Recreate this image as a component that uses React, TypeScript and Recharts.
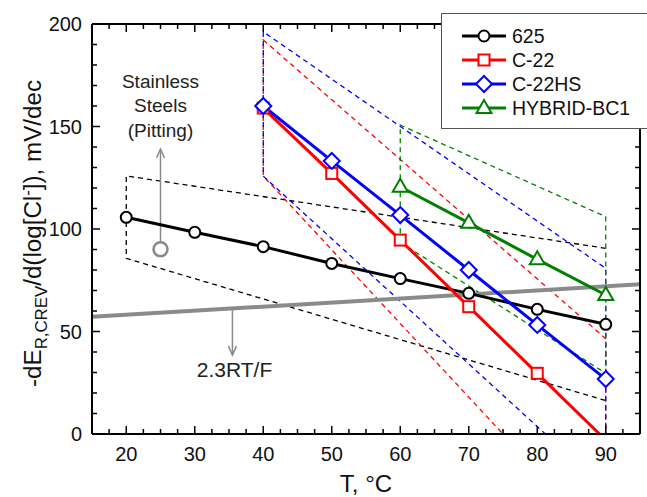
import { Legend, Line, LineChart, ReferenceDot, XAxis, YAxis } from "recharts";

const temps625 = [20, 30, 40, 50, 60, 70, 80, 90];
const alloy625 = [105.7, 98.4, 91.4, 83.2, 75.8, 68.6, 60.8, 53.5];
const tempsC22 = [40, 50, 60, 70, 80, 90];
const alloyC22 = [159, 127.1, 94.6, 62.1, 29.6, -3];
const alloyC22HS = [160, 133.2, 106.8, 80, 53.2, 26.8];
const tempsBC1 = [60, 70, 80, 90];
const hybridBC1 = [120.6, 103, 85.2, 67.8];

// 2.3RT/F (mV/dec) at both ends of the T axis
const rtfTemps = [15, 95];
const rtfValues = [57.2, 73.0];

// dashed bands, [T, value]
const band625 = [[90, 90.6], [20, 125.9], [20, 85.7], [90, 16.3]];
const bandC22 = [[90, -53.9], [40, 125.8], [40, 192.2], [90, 46.5], [90, -53.9]];
const bandC22HS = [[90, -26.9], [40, 125.8], [40, 196.2], [90, 80.8], [90, -26.9]];
const bandBC1 = [[60, 93.5], [60, 150.7], [90, 106], [90, 29.6], [60, 93.5]];

// annotations
const pittingMark = [[25, 90.1]];
const pittingArrow = [[25, 93.5], [25, 139]];
const rtfArrow = [[35.5, 61.3], [35.5, 38.5]];

const xTicks = [17.5, 20, 22.5, 25, 27.5, 30, 32.5, 35, 37.5, 40, 42.5, 45, 47.5, 50, 52.5, 55, 57.5, 60, 62.5, 65, 67.5, 70, 72.5, 75, 77.5, 80, 82.5, 85, 87.5, 90, 92.5];
const xLabels = [20, 30, 40, 50, 60, 70, 80, 90];
const yTicks = [0, 10, 20, 30, 40, 50, 60, 70, 80, 90, 100, 110, 120, 130, 140, 150, 160, 170, 180, 190, 200];
const yLabels = [0, 50, 100, 150, 200];

const RED = "#ff0000";
const BLUE = "#0000ff";
const GREEN = "#008000";
const GRAY = "#8a8a8a";
const FONT = "'Liberation Sans', Arial, sans-serif";

const series = [
    { name: "625", temps: temps625, values: alloy625, color: "#000000", shape: "circle" },
    { name: "C-22", temps: tempsC22, values: alloyC22, color: RED, shape: "square" },
    { name: "C-22HS", temps: tempsC22, values: alloyC22HS, color: BLUE, shape: "diamond" },
    { name: "HYBRID-BC1", temps: tempsBC1, values: hybridBC1, color: GREEN, shape: "triangle" },
];

const bands = [
    { id: "b625", points: band625, color: "#000000" },
    { id: "bC22", points: bandC22, color: RED },
    { id: "bC22HS", points: bandC22HS, color: BLUE },
    { id: "bBC1", points: bandBC1, color: GREEN },
];

function toRows(temps: number[], values: number[]) {
    return temps.map((t, i) => ({ t, v: values[i] }));
}

function pairRows(points: number[][]) {
    return points.map(([t, v]) => ({ t, v }));
}

function Marker({ shape, cx, cy, color }: any) {
    const estilo = { fill: "#ffffff", stroke: color, strokeWidth: 2 };
    if (shape === "circle") return <circle cx={cx} cy={cy} r={5.5} {...estilo} />;
    if (shape === "square") return <rect x={cx - 5.5} y={cy - 5.5} width={11} height={11} {...estilo} />;
    if (shape === "diamond")
        return <polygon points={`${cx},${cy - 8} ${cx + 8},${cy} ${cx},${cy + 8} ${cx - 8},${cy}`} {...estilo} />;
    return <polygon points={`${cx},${cy - 8} ${cx + 7.5},${cy + 5} ${cx - 7.5},${cy + 5}`} {...estilo} />;
}

function markerDot(shape: string, color: string) {
    return (props: any) => {
        const { cx, cy, value, index } = props;
        if (cx == null || cy == null || value < 0) return <g key={`d-${index}`} />;
        return <Marker key={`d-${index}`} shape={shape} cx={cx} cy={cy} color={color} />;
    };
}

function arrowDot(up: boolean) {
    return (props: any) => {
        const { cx, cy, index } = props;
        if (index !== 1) return <g key={`a-${index}`} />;
        const dy = up ? 9 : -9;
        return (
            <polyline
                key={`a-${index}`}
                points={`${cx - 4},${cy + dy} ${cx},${cy} ${cx + 4},${cy + dy}`}
                fill="none"
                stroke={GRAY}
                strokeWidth={1.5}
            />
        );
    };
}

function circleDot(props: any) {
    const { cx, cy, index } = props;
    return <circle key={`c-${index}`} cx={cx} cy={cy} r={7} fill="#ffffff" stroke={GRAY} strokeWidth={2.5} />;
}

// ticks point into the plot; majors 8px, minors 5px
function BottomTick({ x, y, payload }: any) {
    const major = xLabels.includes(payload.value);
    return (
        <g>
            <path d={`M${x},${y}V${y - (major ? 8 : 5)}`} stroke="#000" strokeWidth={1.5} fill="none" />
            {major && (
                <text x={x} y={y + 27} textAnchor="middle" fontSize={20} fontFamily={FONT} fill="#111">
                    {payload.value}
                </text>
            )}
        </g>
    );
}

function TopTick({ x, y, payload }: any) {
    const major = xLabels.includes(payload.value);
    return <path d={`M${x},${y}V${y + (major ? 8 : 5)}`} stroke="#000" strokeWidth={1.5} fill="none" />;
}

function LeftTick({ x, y, payload }: any) {
    const major = yLabels.includes(payload.value);
    return (
        <g>
            <path d={`M${x},${y}H${x + (major ? 8 : 5)}`} stroke="#000" strokeWidth={1.5} fill="none" />
            {major && (
                <text x={x - 10} y={y + 7} textAnchor="end" fontSize={20} fontFamily={FONT} fill="#111">
                    {payload.value}
                </text>
            )}
        </g>
    );
}

function RightTick({ x, y, payload }: any) {
    const major = yLabels.includes(payload.value);
    return <path d={`M${x},${y}H${x - (major ? 8 : 5)}`} stroke="#000" strokeWidth={1.5} fill="none" />;
}

function YTitle(props: any) {
    const vb = props.viewBox || { x: 0, y: 24, width: 92, height: 410 };
    const cx = vb.x + 41;
    const cy = vb.y + vb.height / 2 + 4.5;
    return (
        <text
            x={cx}
            y={cy}
            transform={`rotate(-90 ${cx} ${cy})`}
            textAnchor="middle"
            fontSize={23}
            fontFamily={FONT}
            fill="#111"
            textLength={307}
            lengthAdjust="spacingAndGlyphs"
        >
            -dE
            <tspan fontSize={16} dy={6}>R,CREV</tspan>
            <tspan dy={-6}>/d(log[Cl</tspan>
            <tspan fontSize={16} dy={-8.5}>-</tspan>
            <tspan dy={8.5}>]), mV/dec</tspan>
        </text>
    );
}

function XTitle(props: any) {
    const vb = props.viewBox || { x: 92, y: 434, width: 548, height: 63 };
    return (
        <text x={vb.x + vb.width / 2} y={vb.y + 58} textAnchor="middle" fontSize={24} fontFamily={FONT} fill="#111">
            T, °C
        </text>
    );
}

function PittingText(props: any) {
    const vb = props.viewBox || { x: 0, y: 0 };
    const lineas = ["Stainless", "Steels", "(Pitting)"];
    return (
        <text x={vb.x} y={vb.y} textAnchor="middle" fontSize={19} fontFamily={FONT} fill="#222">
            {lineas.map((l, i) => (
                <tspan key={l} x={vb.x} dy={i === 0 ? 0 : 24.5}>
                    {l}
                </tspan>
            ))}
        </text>
    );
}

function RtfText(props: any) {
    const vb = props.viewBox || { x: 0, y: 0 };
    return (
        <text x={vb.x} y={vb.y} textAnchor="middle" fontSize={21} fontFamily={FONT} fill="#222">
            2.3RT/F
        </text>
    );
}

function LegendBox() {
    return (
        <div
            style={{
                boxSizing: "border-box",
                height: 116,
                paddingTop: 10,
                background: "#ffffff",
                border: "1px solid #555",
                borderRight: "none",
                fontFamily: FONT,
            }}
        >
            {series.map((s) => (
                <div key={s.name} style={{ display: "flex", alignItems: "center", height: 24 }}>
                    <svg width={44} height={24} style={{ marginLeft: 20 }}>
                        <line x1={0} y1={12} x2={44} y2={12} stroke={s.color} strokeWidth={3} />
                        <Marker shape={s.shape} cx={22} cy={12} color={s.color} />
                    </svg>
                    <span style={{ marginLeft: 6, fontSize: 19.5, lineHeight: "24px", color: "#111" }}>{s.name}</span>
                </div>
            ))}
        </div>
    );
}

const axisLineStyle = { stroke: "#000", strokeWidth: 2 };

export default function App() {
    return (
        <div>
            <style>{"body{margin:0}"}</style>
            <LineChart width={647} height={497} margin={{ top: 23, right: 6, bottom: 0, left: 0 }}>
                <XAxis
                    xAxisId="x"
                    dataKey="t"
                    type="number"
                    domain={[15, 95]}
                    ticks={xTicks}
                    interval={0}
                    allowDataOverflow
                    height={63}
                    tickLine={false}
                    tickSize={0}
                    tickMargin={0}
                    tick={(p: any) => <BottomTick {...p} />}
                    axisLine={axisLineStyle}
                    label={(p: any) => <XTitle {...p} />}
                />
                {/* mirrored frame axes: they need a size > 0 to draw their ticks */}
                <XAxis
                    xAxisId="top"
                    dataKey="t"
                    orientation="top"
                    type="number"
                    domain={[15, 95]}
                    ticks={xTicks}
                    interval={0}
                    allowDataOverflow
                    height={1}
                    tickLine={false}
                    tickSize={0}
                    tickMargin={0}
                    tick={(p: any) => <TopTick {...p} />}
                    axisLine={axisLineStyle}
                />
                <YAxis
                    yAxisId="left"
                    type="number"
                    domain={[0, 200]}
                    ticks={yTicks}
                    interval={0}
                    allowDataOverflow
                    width={92}
                    tickLine={false}
                    tickSize={0}
                    tickMargin={0}
                    tick={(p: any) => <LeftTick {...p} />}
                    axisLine={axisLineStyle}
                    label={(p: any) => <YTitle {...p} />}
                />
                <YAxis
                    yAxisId="right"
                    orientation="right"
                    type="number"
                    domain={[0, 200]}
                    ticks={yTicks}
                    interval={0}
                    allowDataOverflow
                    width={1}
                    tickLine={false}
                    tickSize={0}
                    tickMargin={0}
                    tick={(p: any) => <RightTick {...p} />}
                    axisLine={axisLineStyle}
                />

                {/* invisible copy so the top/right axes have a series bound to them */}
                <Line
                    xAxisId="top"
                    yAxisId="right"
                    data={toRows(temps625, alloy625)}
                    dataKey="v"
                    stroke="none"
                    dot={false}
                    activeDot={false}
                    legendType="none"
                    isAnimationActive={false}
                />

                {bands.map((b) => (
                    <Line
                        key={b.id}
                        xAxisId="x"
                        yAxisId="left"
                        data={pairRows(b.points)}
                        dataKey="v"
                        type="linear"
                        stroke={b.color}
                        strokeWidth={1.3}
                        strokeDasharray="5 4"
                        dot={false}
                        activeDot={false}
                        legendType="none"
                        isAnimationActive={false}
                    />
                ))}

                <Line
                    xAxisId="x"
                    yAxisId="left"
                    data={toRows(rtfTemps, rtfValues)}
                    dataKey="v"
                    type="linear"
                    stroke={GRAY}
                    strokeWidth={4}
                    dot={false}
                    activeDot={false}
                    isAnimationActive={false}
                />
                <Line
                    xAxisId="x"
                    yAxisId="left"
                    data={pairRows(pittingArrow)}
                    dataKey="v"
                    stroke={GRAY}
                    strokeWidth={1.5}
                    dot={arrowDot(true)}
                    activeDot={false}
                    isAnimationActive={false}
                />
                <Line
                    xAxisId="x"
                    yAxisId="left"
                    data={pairRows(rtfArrow)}
                    dataKey="v"
                    stroke={GRAY}
                    strokeWidth={1.5}
                    dot={arrowDot(false)}
                    activeDot={false}
                    isAnimationActive={false}
                />
                <Line
                    xAxisId="x"
                    yAxisId="left"
                    data={pairRows(pittingMark)}
                    dataKey="v"
                    stroke="none"
                    dot={circleDot}
                    activeDot={false}
                    isAnimationActive={false}
                />

                {series.map((s) => (
                    <Line
                        key={s.name}
                        name={s.name}
                        xAxisId="x"
                        yAxisId="left"
                        data={toRows(s.temps, s.values)}
                        dataKey="v"
                        type="linear"
                        stroke={s.color}
                        strokeWidth={3}
                        dot={markerDot(s.shape, s.color)}
                        activeDot={false}
                        isAnimationActive={false}
                    />
                ))}

                <ReferenceDot
                    xAxisId="x"
                    yAxisId="left"
                    x={25}
                    y={168.8}
                    r={0}
                    stroke="none"
                    label={(p: any) => <PittingText {...p} />}
                />
                <ReferenceDot
                    xAxisId="x"
                    yAxisId="left"
                    x={35.8}
                    y={27.9}
                    r={0}
                    stroke="none"
                    label={(p: any) => <RtfText {...p} />}
                />

                <Legend
                    layout="vertical"
                    align="center"
                    verticalAlign="middle"
                    wrapperStyle={{ top: 13, left: 441, width: 206 }}
                    content={() => <LegendBox />}
                />
            </LineChart>
        </div>
    );
}
